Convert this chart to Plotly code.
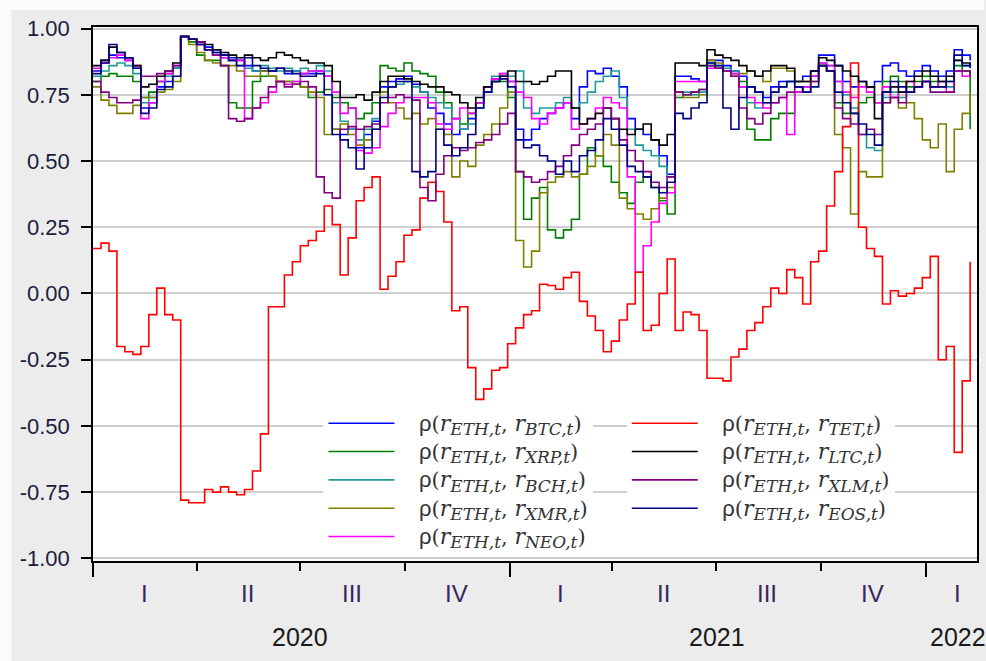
import pandas as pd
import plotly.graph_objects as go

# ---------------- data (weekly readings of the rolling correlations) ----------------
dates = pd.date_range("2020-01-01", periods=111, freq="7D")

btc = [0.84, 0.88, 0.90, 0.89, 0.88, 0.85, 0.70, 0.72, 0.78, 0.80, 0.85,
       0.97, 0.96, 0.95, 0.93, 0.92, 0.90, 0.89, 0.88, 0.86, 0.84, 0.84,
       0.84, 0.85, 0.83, 0.84, 0.83, 0.83, 0.84, 0.82, 0.62, 0.60, 0.62,
       0.55, 0.60, 0.65, 0.78, 0.80, 0.81, 0.82, 0.79, 0.76, 0.70, 0.68,
       0.64, 0.60, 0.62, 0.66, 0.72, 0.78, 0.81, 0.82, 0.80, 0.62, 0.58,
       0.62, 0.66, 0.68, 0.70, 0.72, 0.66, 0.78, 0.84, 0.83, 0.85, 0.82,
       0.78, 0.66, 0.62, 0.60, 0.58, 0.52, 0.45, 0.82, 0.82, 0.81, 0.80,
       0.88, 0.88, 0.86, 0.84, 0.82, 0.78, 0.76, 0.74, 0.78, 0.80, 0.80,
       0.80, 0.82, 0.84, 0.90, 0.90, 0.86, 0.80, 0.78, 0.80, 0.78, 0.80,
       0.86, 0.87, 0.84, 0.82, 0.84, 0.86, 0.84, 0.82, 0.84, 0.92, 0.90, 0.88]

xrp = [0.80, 0.82, 0.83, 0.82, 0.82, 0.80, 0.74, 0.76, 0.80, 0.83, 0.85,
       0.97, 0.95, 0.90, 0.88, 0.88, 0.86, 0.72, 0.70, 0.70, 0.80, 0.82,
       0.82, 0.80, 0.80, 0.80, 0.78, 0.74, 0.76, 0.77, 0.74, 0.72, 0.70,
       0.66, 0.68, 0.72, 0.86, 0.85, 0.84, 0.87, 0.84, 0.83, 0.82, 0.76,
       0.72, 0.66, 0.64, 0.68, 0.72, 0.76, 0.80, 0.80, 0.74, 0.46, 0.28,
       0.36, 0.40, 0.24, 0.21, 0.24, 0.28, 0.45, 0.55, 0.52, 0.48, 0.42,
       0.38, 0.34, 0.42, 0.44, 0.40, 0.35, 0.30, 0.74, 0.75, 0.76, 0.77,
       0.86, 0.85, 0.84, 0.83, 0.80, 0.62, 0.58, 0.58, 0.66, 0.68, 0.68,
       0.76, 0.78, 0.80, 0.86, 0.84, 0.72, 0.68, 0.68, 0.72, 0.74, 0.72,
       0.80, 0.82, 0.80, 0.78, 0.80, 0.82, 0.80, 0.78, 0.80, 0.86, 0.84, 0.62]

bch = [0.82, 0.84, 0.86, 0.87, 0.86, 0.83, 0.72, 0.74, 0.80, 0.82, 0.85,
       0.97, 0.96, 0.94, 0.92, 0.91, 0.89, 0.88, 0.86, 0.85, 0.84, 0.86,
       0.85, 0.84, 0.85, 0.84, 0.85, 0.84, 0.86, 0.84, 0.72, 0.65, 0.62,
       0.58, 0.62, 0.66, 0.76, 0.78, 0.79, 0.80, 0.78, 0.76, 0.74, 0.72,
       0.70, 0.66, 0.62, 0.64, 0.70, 0.76, 0.82, 0.83, 0.82, 0.84, 0.70,
       0.68, 0.70, 0.70, 0.72, 0.74, 0.70, 0.72, 0.76, 0.80, 0.82, 0.84,
       0.74, 0.62, 0.56, 0.54, 0.52, 0.48, 0.44, 0.76, 0.76, 0.75, 0.76,
       0.87, 0.86, 0.85, 0.84, 0.78, 0.72, 0.70, 0.72, 0.76, 0.78, 0.80,
       0.78, 0.78, 0.82, 0.87, 0.86, 0.80, 0.75, 0.70, 0.60, 0.55, 0.54,
       0.74, 0.76, 0.74, 0.76, 0.78, 0.80, 0.78, 0.80, 0.78, 0.88, 0.86, 0.86]

xmr = [0.78, 0.73, 0.71, 0.68, 0.68, 0.71, 0.74, 0.74, 0.76, 0.77, 0.80,
       0.97, 0.94, 0.91, 0.88, 0.87, 0.86, 0.86, 0.84, 0.82, 0.82, 0.84,
       0.82, 0.80, 0.80, 0.79, 0.78, 0.76, 0.74, 0.60, 0.62, 0.64, 0.60,
       0.56, 0.58, 0.62, 0.76, 0.72, 0.70, 0.66, 0.68, 0.64, 0.66, 0.62,
       0.60, 0.44, 0.50, 0.48, 0.56, 0.60, 0.64, 0.70, 0.76, 0.20, 0.10,
       0.16, 0.38, 0.42, 0.44, 0.46, 0.44, 0.45, 0.48, 0.52, 0.60, 0.56,
       0.36, 0.32, 0.30, 0.28, 0.32, 0.36, 0.40, 0.76, 0.74, 0.74, 0.75,
       0.88, 0.87, 0.84, 0.82, 0.83, 0.84, 0.82, 0.80, 0.85, 0.85, 0.84,
       0.80, 0.80, 0.82, 0.86, 0.84, 0.60, 0.55, 0.30, 0.46, 0.44, 0.44,
       0.72, 0.74, 0.70, 0.72, 0.66, 0.58, 0.55, 0.64, 0.46, 0.62, 0.68, 0.76]

neo = [0.85, 0.87, 0.89, 0.90, 0.88, 0.86, 0.66, 0.72, 0.80, 0.83, 0.86,
       0.97, 0.96, 0.94, 0.92, 0.90, 0.89, 0.88, 0.88, 0.66, 0.70, 0.72,
       0.76, 0.80, 0.79, 0.80, 0.83, 0.84, 0.84, 0.82, 0.76, 0.68, 0.70,
       0.54, 0.53, 0.55, 0.63, 0.68, 0.72, 0.74, 0.74, 0.74, 0.72, 0.64,
       0.62, 0.66, 0.70, 0.68, 0.72, 0.78, 0.81, 0.83, 0.80, 0.76, 0.74,
       0.66, 0.64, 0.68, 0.70, 0.72, 0.62, 0.64, 0.66, 0.70, 0.74, 0.72,
       0.70, 0.44, 0.08, 0.18, 0.27, 0.34, 0.38, 0.80, 0.80, 0.80, 0.80,
       0.85, 0.85, 0.84, 0.83, 0.78, 0.74, 0.72, 0.70, 0.72, 0.74, 0.60,
       0.76, 0.78, 0.82, 0.87, 0.86, 0.80, 0.76, 0.74, 0.78, 0.76, 0.72,
       0.78, 0.74, 0.76, 0.80, 0.78, 0.80, 0.78, 0.80, 0.76, 0.84, 0.82, 0.84]

tet = [0.17, 0.19, 0.16, -0.20, -0.22, -0.23, -0.20, -0.08, 0.02, -0.08, -0.10,
       -0.78, -0.79, -0.79, -0.74, -0.75, -0.73, -0.75, -0.76, -0.74, -0.67, -0.53,
       -0.05, -0.05, 0.07, 0.12, 0.18, 0.20, 0.235, 0.33, 0.26, 0.07, 0.21,
       0.35, 0.40, 0.44, 0.016, 0.065, 0.12, 0.22, 0.24, 0.36, 0.42, 0.385,
       0.27, -0.065, -0.05, -0.28, -0.40, -0.36, -0.29, -0.28, -0.19, -0.13, -0.08,
       -0.065, 0.035, 0.03, 0.016, 0.06, 0.08, -0.03, -0.085, -0.14, -0.22, -0.18,
       -0.10, -0.04, 0.08, -0.14, -0.12, 0.0, 0.13, -0.14, -0.07, -0.08, -0.14,
       -0.32, -0.32, -0.33, -0.24, -0.21, -0.14, -0.11, -0.05, 0.02, 0.0, 0.09,
       0.06, -0.04, 0.12, 0.16, 0.33, 0.46, 0.63, 0.87, 0.25, 0.17, 0.14,
       -0.04, 0.01, -0.01, 0.0, 0.02, 0.06, 0.14, -0.25, -0.20, -0.60, -0.33, 0.12]

ltc = [0.86, 0.88, 0.93, 0.91, 0.89, 0.86, 0.78, 0.79, 0.82, 0.84, 0.87,
       0.97, 0.96, 0.95, 0.94, 0.92, 0.91, 0.90, 0.89, 0.90, 0.89, 0.88,
       0.89, 0.91, 0.90, 0.89, 0.88, 0.87, 0.87, 0.86, 0.80, 0.74, 0.74,
       0.75, 0.73, 0.76, 0.80, 0.82, 0.82, 0.81, 0.80, 0.79, 0.78, 0.78,
       0.76, 0.75, 0.72, 0.70, 0.74, 0.78, 0.80, 0.82, 0.84, 0.80, 0.80,
       0.79, 0.80, 0.82, 0.84, 0.84, 0.70, 0.64, 0.66, 0.68, 0.70, 0.66,
       0.62, 0.60, 0.62, 0.64, 0.58, 0.56, 0.60, 0.87, 0.87, 0.87, 0.86,
       0.92, 0.90, 0.89, 0.88, 0.86, 0.84, 0.82, 0.84, 0.86, 0.86, 0.85,
       0.80, 0.80, 0.84, 0.89, 0.88, 0.86, 0.84, 0.82, 0.80, 0.78, 0.66,
       0.76, 0.78, 0.76, 0.80, 0.82, 0.84, 0.82, 0.80, 0.82, 0.88, 0.87, 0.86]

xlm = [0.80, 0.76, 0.74, 0.72, 0.72, 0.73, 0.82, 0.82, 0.83, 0.84, 0.86,
       0.97, 0.96, 0.95, 0.92, 0.90, 0.86, 0.66, 0.65, 0.66, 0.70, 0.74,
       0.78, 0.80, 0.78, 0.79, 0.80, 0.78, 0.44, 0.38, 0.36, 0.62, 0.63,
       0.62, 0.63, 0.64, 0.72, 0.74, 0.75, 0.74, 0.73, 0.40, 0.35, 0.45,
       0.52, 0.55, 0.54, 0.55, 0.57, 0.58, 0.60, 0.64, 0.68, 0.46, 0.44,
       0.42, 0.43, 0.46, 0.48, 0.52, 0.56, 0.60, 0.62, 0.64, 0.70, 0.66,
       0.58, 0.54, 0.50, 0.46, 0.42, 0.40, 0.44, 0.76, 0.75, 0.76, 0.77,
       0.86, 0.85, 0.84, 0.82, 0.70, 0.66, 0.64, 0.68, 0.72, 0.74, 0.76,
       0.78, 0.76, 0.80, 0.86, 0.84, 0.70, 0.66, 0.64, 0.60, 0.62, 0.60,
       0.72, 0.74, 0.72, 0.76, 0.78, 0.80, 0.76, 0.76, 0.76, 0.84, 0.84, 0.82]

eos = [0.83, 0.87, 0.94, 0.91, 0.89, 0.85, 0.68, 0.70, 0.77, 0.78, 0.82,
       0.97, 0.96, 0.94, 0.92, 0.91, 0.90, 0.88, 0.86, 0.89, 0.86, 0.85,
       0.84, 0.85, 0.84, 0.83, 0.82, 0.82, 0.83, 0.75, 0.60, 0.58, 0.55,
       0.47, 0.55, 0.62, 0.74, 0.78, 0.80, 0.80, 0.46, 0.44, 0.46, 0.62,
       0.56, 0.52, 0.55, 0.60, 0.70, 0.76, 0.80, 0.81, 0.78, 0.58, 0.55,
       0.56, 0.52, 0.50, 0.45, 0.50, 0.46, 0.52, 0.54, 0.58, 0.66, 0.62,
       0.56, 0.48, 0.46, 0.44, 0.40, 0.38, 0.42, 0.68, 0.66, 0.70, 0.72,
       0.87, 0.86, 0.70, 0.62, 0.74, 0.78, 0.76, 0.72, 0.76, 0.78, 0.80,
       0.78, 0.76, 0.78, 0.86, 0.84, 0.76, 0.72, 0.68, 0.64, 0.60, 0.56,
       0.76, 0.80, 0.78, 0.76, 0.78, 0.80, 0.78, 0.78, 0.80, 0.90, 0.86, 0.85]

y_tickvals = [1.0, 0.75, 0.5, 0.25, 0.0, -0.25, -0.5, -0.75, -1.0]
y_ticktext = ["1.00", "0.75", "0.50", "0.25", "0.00", "-0.25", "-0.50", "-0.75", "-1.00"]
quarter_pos = ["2020-02-15", "2020-05-16", "2020-08-15", "2020-11-15",
               "2021-02-14", "2021-05-16", "2021-08-15", "2021-11-15", "2022-01-29"]
quarter_labels = ["I", "II", "III", "IV", "I", "II", "III", "IV", "I"]
year_pos = ["2020-07-01", "2021-07-02", "2022-01-29"]
year_labels = ["2020", "2021", "2022"]
year_ticks = ["2020-01-01", "2021-01-01", "2022-01-01"]

# ---------------- figure ----------------
RHO = "font-family:Liberation Sans;font-size:22px"
PAR = "font-family:DejaVu Serif;font-size:21px"
RR = "font-family:DejaVu Serif;font-style:italic;font-size:22px"
SUB = "font-family:DejaVu Serif;font-style:italic;font-size:17px"


def label(code):
    return ("\u2003<span style='%s'>ρ</span><span style='%s'>(</span>"
            "<span style='%s'>r</span><sub><span style='%s'>ETH,t</span></sub>"
            "<span style='%s'>, </span>"
            "<span style='%s'>r</span><sub><span style='%s'>%s,t</span></sub>"
            "<span style='%s'>)</span>"
            % (RHO, PAR, RR, SUB, PAR, RR, SUB, code, PAR))


series = [
    ("BTC", btc, "#0000ff", "legend"),
    ("XRP", xrp, "#008000", "legend"),
    ("BCH", bch, "#1f9a9a", "legend"),
    ("XMR", xmr, "#808000", "legend"),
    ("NEO", neo, "#ff00ff", "legend"),
    ("TET", tet, "#ff0000", "legend2"),
    ("LTC", ltc, "#000000", "legend2"),
    ("XLM", xlm, "#800080", "legend2"),
    ("EOS", eos, "#000080", "legend2"),
]

fig = go.Figure()
for code, vals, col, lg in series:
    assert len(vals) == len(dates), code
    fig.add_trace(go.Scatter(
        x=dates, y=vals, mode="lines", name=label(code),
        line=dict(color=col, width=1.6, shape="hv"), legend=lg,
    ))

W, H = 986, 661
L, R, T, B = 93, 7, 27, 100
pw, ph = W - L - R, H - T - B


def px_x(p):
    return (p - L) / pw


def px_y(p):
    return (H - B - p) / ph


legend_common = dict(
    bgcolor="white", borderwidth=0, itemwidth=66, tracegroupgap=0,
    font=dict(family="DejaVu Serif", size=19.5, color="#333333"),
    xanchor="left", yanchor="top", orientation="v", itemclick=False,
)

annotations = []
for pos, txt in zip(quarter_pos, quarter_labels):
    annotations.append(dict(x=pos, y=0, xref="x", yref="paper", text=txt, showarrow=False,
                            yanchor="middle", yshift=-32,
                            font=dict(family="Liberation Sans", size=24, color="#35275e")))
for pos, txt in zip(year_pos, year_labels):
    annotations.append(dict(x=pos, y=0, xref="x", yref="paper", text=txt, showarrow=False,
                            yanchor="middle", yshift=-76,
                            font=dict(family="Liberation Sans", size=25, color="#1a1a1a")))

shapes = [
    # white box behind the legend
    dict(type="rect", xref="paper", yref="paper", x0=px_x(327), x1=px_x(903),
         y0=px_y(548), y1=px_y(408), fillcolor="white", line=dict(width=0), layer="between"),
    # light outer strips of the window
    dict(type="rect", xref="paper", yref="paper", x0=px_x(0), x1=px_x(11),
         y0=px_y(H), y1=px_y(0), fillcolor="#fbfbfb", line=dict(width=0), layer="below"),
    dict(type="rect", xref="paper", yref="paper", x0=px_x(0), x1=px_x(W),
         y0=px_y(10), y1=px_y(0), fillcolor="#fbfbfb", line=dict(width=0), layer="below"),
]

fig.update_layout(
    width=W, height=H,
    margin=dict(l=L, r=R, t=T, b=B),
    paper_bgcolor="#ececec", plot_bgcolor="white",
    showlegend=True,
    legend=dict(x=px_x(324), y=px_y(404), **legend_common),
    legend2=dict(x=px_x(628), y=px_y(404), **legend_common),
    annotations=annotations, shapes=shapes,
    xaxis=dict(
        type="date", range=["2020-01-01", "2022-02-15"],
        tickvals=year_ticks, showticklabels=False,
        ticks="outside", ticklen=14, tickwidth=1.5, tickcolor="black",
        minor=dict(dtick="M3", tick0="2020-01-01", ticks="outside", ticklen=8,
                   tickwidth=1.5, tickcolor="black", showgrid=False),
        showgrid=False, zeroline=False,
        showline=True, linecolor="black", linewidth=1.5, mirror=True,
    ),
    yaxis=dict(
        range=[-1.010, 1.006], tickvals=y_tickvals, ticktext=y_ticktext,
        ticks="outside", ticklen=10, tickwidth=1.5, tickcolor="black",
        ticklabelstandoff=7,
        tickfont=dict(family="Liberation Sans", size=22, color="#1c1c3c"),
        showgrid=True, gridcolor="#cfcfcf", gridwidth=1.5, zeroline=False,
        showline=True, linecolor="black", linewidth=1.5, mirror=True,
    ),
)

fig.write_html(
    "out.html",
    config={"displayModeBar": False},
    post_script="document.body.style.margin='0';document.body.style.padding='0';"
                "document.body.style.overflow='hidden';",
)
